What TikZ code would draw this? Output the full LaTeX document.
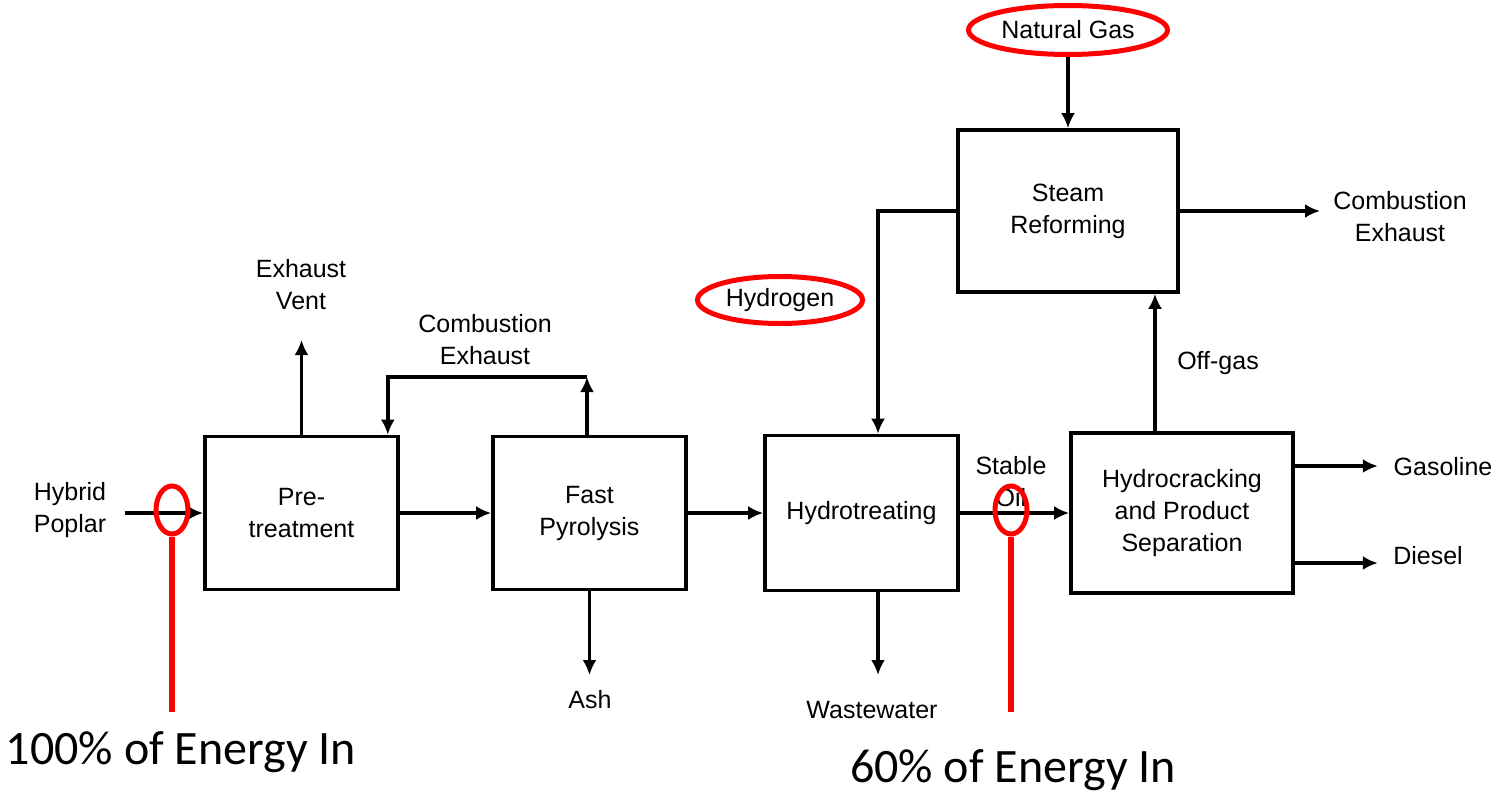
\documentclass[tikz,border=0pt]{standalone}
\usepackage{fontspec}
\setmainfont{Liberation Sans}
\newfontfamily\calibfont{Carlito}
\usetikzlibrary{arrows.meta,shapes.geometric}

\tikzset{
  unit/.style={draw,line width=1.8pt,minimum width=96.5pt,minimum height=76.5pt,
    align=center,inner sep=2pt,font=\fontsize{12.5}{16}\selectfont},
  lbl/.style={align=center,inner sep=1pt,font=\fontsize{12.5}{16}\selectfont},
  flow/.style={line width=1.8pt,-{Latex[length=7.5pt,width=7pt]}},
  ring/.style={draw=red,line width=2.5pt,ellipse,inner sep=0pt},
  pointer/.style={red,line width=3pt},
  note/.style={font=\calibfont\fontsize{24}{28}\selectfont,inner sep=0pt}
}

\begin{document}
\begin{tikzpicture}[x=0.5pt,y=-0.5pt]
\fill[white] (0,0) rectangle (1501,793);
\useasboundingbox (0,0) rectangle (1501,793);

% process units
\node[unit] (pre) at (301.5,513) {Pre-\\treatment};
\node[unit] (fast) at (589.5,513) {Fast\\Pyrolysis};
\node[unit,minimum height=77.5pt] (hydro) at (861.5,513) {Hydrotreating};
\node[unit,minimum width=111pt,minimum height=80pt] (crack) at (1182,513) {Hydrocracking\\and Product\\Separation};
\node[unit,minimum width=110pt,minimum height=81pt] (steam) at (1068,211) {Steam\\Reforming};

% streams
\node[lbl] (poplar) at (70,510) {Hybrid\\Poplar};
\node[lbl] (vent) at (301,285) {Exhaust\\Vent};
\node[lbl] (combA) at (485,340) {Combustion\\Exhaust};
\node[lbl] (ash) at (590,700) {Ash};
\node[lbl] (water) at (872,710) {Wastewater};
\node[lbl] (oil) at (1011,482) {Stable\\Oil};
\node[lbl] (offgas) at (1218,363) {Off-gas};
\node[lbl] (gasoline) at (1443,467) {Gasoline};
\node[lbl] (diesel) at (1428,556) {Diesel};
\node[lbl] (combB) at (1400,217) {Combustion\\Exhaust};
\node[lbl,ring,minimum width=99.5pt,minimum height=24.5pt] (gas) at (1068,30) {Natural Gas};
\node[lbl,ring,minimum width=82.5pt,minimum height=23.5pt] (hydrogen) at (780,300) {Hydrogen};

\coordinate (feed) at (125,513);
\coordinate (venttip) at (301.5,340);
\coordinate (loop) at (587,377);
\coordinate (ashtip) at (589.5,675);
\coordinate (watertip) at (878,675);
\coordinate (hx) at (878,0);
\coordinate (exhtip) at (1320,211);
\coordinate (offx) at (1155,0);

\draw[flow] (feed) -- (pre.west);
\draw[flow] (pre) -- (fast);
\draw[flow] (fast) -- (hydro);
\draw[flow] (hydro) -- (crack);
\draw[flow] (pre.north) -- (venttip);
\draw[flow] (loop |- fast.north) -- (loop);
\draw[flow] (loop) -| ([xshift=-6pt]pre.north east);
\draw[flow] (fast.south) -- (ashtip);
\draw[flow] (watertip |- hydro.south) -- (watertip);
\draw[flow] (steam.west) -| (hx |- hydro.north);
\draw[flow] (gas) -- (steam);
\draw[flow] (steam.east) -- (exhtip);
\draw[flow] (offx |- crack.north) -- (offx |- steam.south);
\draw[flow] ([yshift=23.5pt]crack.east) -- ++(83,0);
\draw[flow] ([yshift=-25pt]crack.east) -- ++(83,0);

% energy markers
\node[ring,minimum width=16pt,minimum height=24pt] (in100) at (172,510) {};
\node[ring,minimum width=16pt,minimum height=24pt] (in60) at (1011,510) {};
\coordinate (tail100) at (172,712);
\coordinate (tail60) at (1011,712);
\draw[pointer] (in100.south) -- (tail100);
\draw[pointer] (in60.south) -- (tail60);
\node[note] (e100) at (181,752) {100\% of Energy In};
\node[note] (e60) at (1013,770) {60\% of Energy In};
\end{tikzpicture}
\end{document}
